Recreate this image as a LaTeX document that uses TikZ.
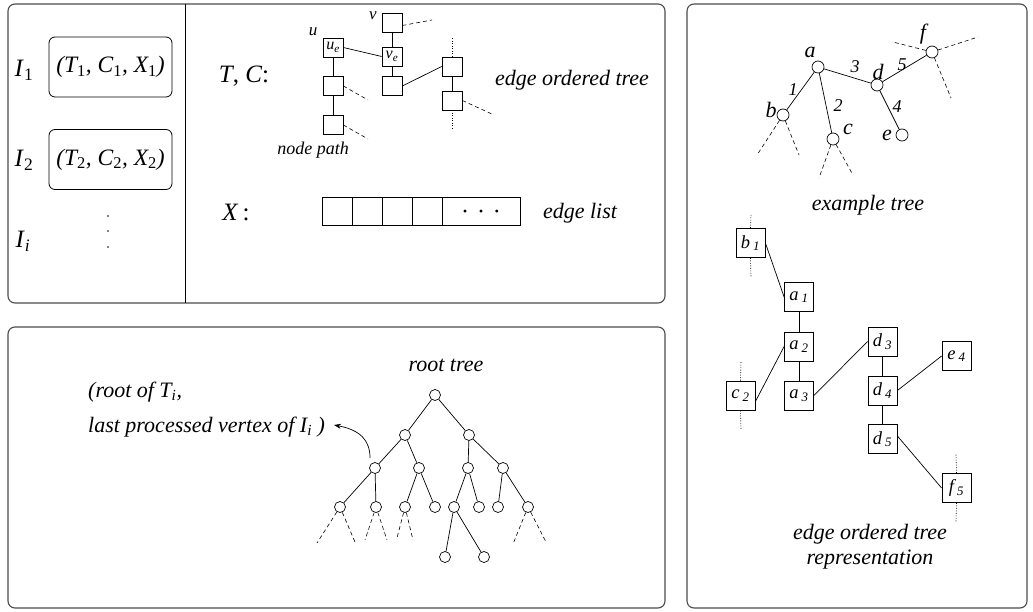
\documentclass[tikz,border=0pt]{standalone}
\usepackage{fontspec}
\setmainfont{Liberation Serif}
\usetikzlibrary{arrows.meta}
\begin{document}
\begin{tikzpicture}[x=1pt,y=-1pt,
  panel/.style={draw=black!70,line width=1.1pt,rounded corners=7pt},
  tup/.style={draw,line width=0.8pt,rounded corners=6pt,minimum width=123pt,minimum height=60pt,inner sep=0pt,font=\fontsize{23.5}{27}\selectfont\itshape},
  sq/.style={draw,line width=0.7pt,minimum width=20pt,minimum height=19pt,inner sep=0pt,font=\fontsize{16}{16}\selectfont\itshape},
  bx/.style={draw,line width=0.8pt,minimum size=29pt,inner sep=0pt,font=\fontsize{18.5}{18}\selectfont\itshape},
  cell/.style={draw,line width=0.7pt,minimum width=30pt,minimum height=28pt,inner sep=0pt},
  cn/.style={circle,draw,line width=0.7pt,minimum size=11pt,inner sep=0pt},
  lab/.style={font=\fontsize{22}{25}\selectfont\itshape,inner sep=0pt},
  biglab/.style={font=\fontsize{25}{28}\selectfont,inner sep=0pt},
  smalllab/.style={font=\fontsize{18}{20}\selectfont\itshape,inner sep=0pt},
  tinylab/.style={font=\fontsize{17}{18}\selectfont\itshape,inner sep=0pt},
  ln/.style={line width=0.7pt},
  dsh/.style={line width=0.6pt,dash pattern=on 4pt off 3pt},
  dts/.style={line width=0.6pt,dash pattern=on 1pt off 1.5pt},
]
\useasboundingbox (0,0) rectangle (1033,612);

% ---------------- panels
\draw[panel] (8,4) rectangle (665,303);
\draw[line width=0.8pt] (185,4) -- (185,303);
\draw[panel] (8,327) rectangle (665,608);
\draw[panel] (687,4) rectangle (1027,608);

% ---------------- left column
\node[biglab] (I1) at (24,70) {\textit{I}\textsubscript{1}};
\node[biglab] (I2) at (24,160) {\textit{I}\textsubscript{2}};
\node[biglab] (Ii) at (23,241) {\textit{I}\textsubscript{\textit{i}}};
\node[tup] (B1) at (110.5,67) {(T\textsubscript{\upshape 1}, C\textsubscript{\upshape 1}, X\textsubscript{\upshape 1})};
\node[tup] (B2) at (110.5,159.5) {(T\textsubscript{\upshape 2}, C\textsubscript{\upshape 2}, X\textsubscript{\upshape 2})};
\foreach \yy in {216,231,247} \fill (108,\yy) circle (0.8pt);

% ---------------- T, C
\node[biglab] (TC) at (244,76) {\textit{T}, \textit{C}:};
\node[sq] (u1) at (333,47.5) {u\textsubscript{e}};
\node[sq] (u2) at (333,86) {};
\node[sq] (u3) at (333,125) {};
\node[sq] (v1) at (392,22.5) {};
\node[sq] (v2) at (392,56.5) {v\textsubscript{e}};
\node[sq] (v3) at (392,86) {};
\node[sq] (w1) at (452,66.5) {};
\node[sq] (w2) at (452,100.5) {};
\node[tinylab] (ul) at (313,32) {u};
\node[tinylab] (vl) at (373,16) {v};
\draw[ln] (u1) -- (u2) -- (u3);
\draw[ln] (v1) -- (v2) -- (v3);
\draw[ln] (w1) -- (w2);
\draw[ln] (u1.east) -- (v2.west);
\draw[ln] (v3.east) -- (w1.west);
\coordinate (du2) at (368,100);
\coordinate (du3) at (368,139);
\coordinate (dv1) at (432,20);
\coordinate (dw2) at (494,115);
\coordinate (tw1) at (452,38);
\coordinate (bw2) at (452,128);
\draw[dsh] (u2.east) -- (du2);
\draw[dsh] (u3.east) -- (du3);
\draw[dsh] ([yshift=-3pt]v1.east) -- (dv1);
\draw[dsh] (w2.east) -- (dw2);
\draw[dts] (w1.north) -- (tw1);
\draw[dts] (w2.south) -- (bw2);
\node[smalllab] (np) at (313,150) {node path};
\node[lab] (eot) at (572,80) {edge ordered tree};

% ---------------- X
\node[biglab] (X) at (236,212) {\textit{X}\,:};
\node[cell] (c1) at (337,211) {};
\node[cell] (c2) at (367,211) {};
\node[cell] (c3) at (397,211) {};
\node[cell] (c4) at (427,211) {};
\node[cell,minimum width=78pt] (c5) at (481,211) {};
\node[font=\fontsize{24}{24}\selectfont,anchor=base,inner sep=0pt] (dots) at (481,220) {·\,\,·\,\,·};
\node[lab] (el) at (580,213) {edge list};

% ---------------- bottom panel
\node[lab,anchor=west] (t1) at (88,392) {(root of T\textsubscript{i},};
\node[lab,anchor=west] (t2) at (88,427) {last processed vertex of I\textsubscript{i} )};
\node[lab] (rt) at (446,365) {root tree};
\node[cn] (r) at (435,395) {};
\node[cn] (l1) at (405,435) {};
\node[cn] (r1) at (469,435) {};
\node[cn] (m1) at (375,468) {};
\node[cn] (m2) at (419,468) {};
\node[cn] (m3) at (468,468) {};
\node[cn] (m4) at (503,468) {};
\node[cn] (k1) at (340,507) {};
\node[cn] (k2) at (376,507) {};
\node[cn] (k3) at (405,507) {};
\node[cn] (k4) at (435,507) {};
\node[cn] (k5) at (454,507) {};
\node[cn] (k6) at (479,507) {};
\node[cn] (k7) at (498,507) {};
\node[cn] (k8) at (528,507) {};
\node[cn] (q1) at (445,557) {};
\node[cn] (q2) at (484,557) {};
\draw[ln] (r) -- (l1); \draw[ln] (r) -- (r1);
\draw[ln] (l1) -- (m1); \draw[ln] (l1) -- (m2);
\draw[ln] (r1) -- (m3); \draw[ln] (r1) -- (m4);
\draw[ln] (m1) -- (k1); \draw[ln] (m1) -- (k2);
\draw[ln] (m2) -- (k3); \draw[ln] (m2) -- (k4);
\draw[ln] (m3) -- (k5); \draw[ln] (m3) -- (k6);
\draw[ln] (m4) -- (k7); \draw[ln] (m4) -- (k8);
\draw[ln] (k5) -- (q1); \draw[ln] (k5) -- (q2);
\coordinate (x1) at (317,543); \coordinate (x2) at (355,542);
\coordinate (x3) at (365,540); \coordinate (x4) at (387,540);
\coordinate (x5) at (397,538); \coordinate (x6) at (413,540);
\coordinate (x7) at (513,544); \coordinate (x8) at (546,542);
\draw[dsh] (k1) -- (x1); \draw[dsh] (k1) -- (x2);
\draw[dsh] (k2) -- (x3); \draw[dsh] (k2) -- (x4);
\draw[dsh] (k3) -- (x5); \draw[dsh] (k3) -- (x6);
\draw[dsh] (k8) -- (x7); \draw[dsh] (k8) -- (x8);
\coordinate (as) at (370,458);
\coordinate (ae) at (334,425);
\draw[ln,-{Stealth[length=7pt,width=5pt]}] (as) .. controls (370,440) and (360,430) .. (ae);

% ---------------- example tree
\node[cn,minimum size=12pt] (a) at (818,67) {};
\node[cn,minimum size=12pt] (b) at (783,115) {};
\node[cn,minimum size=12pt] (c) at (833,139) {};
\node[cn,minimum size=12pt] (d) at (877,85) {};
\node[cn,minimum size=12pt] (e) at (902,135) {};
\node[cn,minimum size=12pt] (f) at (932,52) {};
\node[lab] (al) at (810,52) {a};
\node[lab] (bl) at (771,110) {b};
\node[lab] (cl) at (848,129) {c};
\node[lab] (dl) at (878,72) {d};
\node[lab] (elb) at (887,135) {e};
\node[lab] (fl) at (923,34) {f};
\draw[ln] (a) -- (b);
\draw[ln] (a) -- (c);
\draw[ln] (a) -- (d);
\draw[ln] (d) -- (e);
\draw[ln] (d) -- (f);
\node[smalllab] (w1l) at (793,90) {1};
\node[smalllab] (w2l) at (838,106) {2};
\node[smalllab] (w3l) at (855,67) {3};
\node[smalllab] (w4l) at (897,107) {4};
\node[smalllab] (w5l) at (902,65) {5};
\coordinate (y1) at (757,155); \coordinate (y2) at (799,155);
\coordinate (y3) at (819,178); \coordinate (y4) at (853,175);
\coordinate (y5) at (893,42); \coordinate (y6) at (978,37); \coordinate (y7) at (951,98);
\draw[dsh] (b) -- (y1); \draw[dsh] (b) -- (y2);
\draw[dsh] (c) -- (y3); \draw[dsh] (c) -- (y4);
\draw[dsh] (f) -- (y5); \draw[dsh] (f) -- (y6); \draw[dsh] (f) -- (y7);
\node[lab] (ext) at (868,205) {example tree};

% ---------------- edge ordered tree representation
\node[bx] (b1) at (750.5,243) {b\,\textsubscript{1}};
\node[bx] (a1) at (799,297) {a\,\textsubscript{1}};
\node[bx] (a2) at (799,346.5) {a\,\textsubscript{2}};
\node[bx] (a3) at (799,395.5) {a\,\textsubscript{3}};
\node[bx] (c2) at (740.5,395.5) {c\,\textsubscript{2}};
\node[bx] (d3) at (882.5,341.5) {d\,\textsubscript{3}};
\node[bx] (d4) at (882.5,390.5) {d\,\textsubscript{4}};
\node[bx] (d5) at (882.5,439) {d\,\textsubscript{5}};
\node[bx] (e4) at (956.5,356) {e\,\textsubscript{4}};
\node[bx] (f5) at (956.5,488) {f\,\textsubscript{5}};
\draw[ln] (a1) -- (a2) -- (a3);
\draw[ln] (d3) -- (d4) -- (d5);
\draw[ln] (b1.east) -- (a1.west);
\draw[ln] ([yshift=-6pt]c2.east) -- (a2.west);
\draw[ln] (a3.east) -- (d3.west);
\draw[ln] (d4.east) -- (e4.west);
\draw[ln] ([yshift=3pt]d5.east) -- (f5.west);
\coordinate (z1) at (751,215); \coordinate (z2) at (751,277);
\coordinate (z3) at (741,361); \coordinate (z4) at (741,430);
\coordinate (z5) at (956,454); \coordinate (z6) at (956,522);
\draw[dts] (b1.north) -- (z1); \draw[dts] (b1.south) -- (z2);
\draw[dts] (c2.north) -- (z3); \draw[dts] (c2.south) -- (z4);
\draw[dts] (f5.north) -- (z5); \draw[dts] (f5.south) -- (z6);
\node[lab,align=center] (rep) at (870,547) {edge ordered tree\\representation};
\end{tikzpicture}
\end{document}
